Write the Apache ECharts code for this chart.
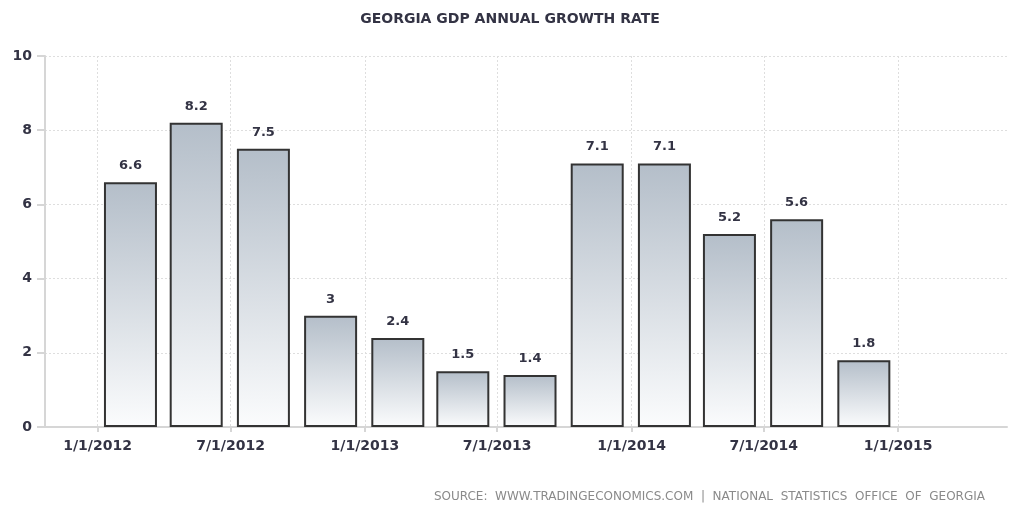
<!DOCTYPE html>
<html>
<head>
<meta charset="utf-8">
<script src="https://cdn.jsdelivr.net/npm/echarts@6/dist/echarts.min.js"></script>
<style>
  html, body { margin: 0; padding: 0; background: #fff; }
  #mychart { width: 1018px; height: 508px; }
</style>
</head>
<body>
<div id="mychart"></div>
<script>
// quarterly GDP growth, plotted at mid-quarter
var quarters = ['2012-02-15', '2012-05-15', '2012-08-15', '2012-11-15',
                '2013-02-15', '2013-05-15', '2013-08-15', '2013-11-15',
                '2014-02-15', '2014-05-15', '2014-08-15', '2014-11-15']
var growth = [6.6, 8.2, 7.5, 3, 2.4, 1.5, 1.4, 7.1, 7.1, 5.2, 5.6, 1.8]
var tickDates = ['2012-01-01', '2012-07-01', '2013-01-01', '2013-07-01',
                 '2014-01-01', '2014-07-01', '2015-01-01']

var textColor = '#333344'
var fontName = 'DejaVu Sans'

function ts(s) {
    return Date.parse(s + 'T00:00:00Z')
}

var seriesData = []
for (var i = 0; i < quarters.length; i++) {
    seriesData.push([ts(quarters[i]), growth[i]])
}
var tickValues = tickDates.map(ts)

var myChart = echarts.init(document.getElementById('mychart'))

var option = {
    animation: false,
    backgroundColor: '#fff',
    title: [{
        text: 'GEORGIA GDP ANNUAL GROWTH RATE',
        left: 505,
        top: 7,
        textAlign: 'center',
        textStyle: {
            color: textColor,
            fontFamily: fontName,
            fontWeight: 'bold',
            fontSize: 14,
        },
    }, {
        text: 'SOURCE:  WWW.TRADINGECONOMICS.COM  |  NATIONAL  STATISTICS  OFFICE  OF  GEORGIA',
        right: 28,
        top: 486,
        textStyle: {
            color: '#8a8a8a',
            fontFamily: fontName,
            fontWeight: 'normal',
            fontSize: 12,
        },
    }],
    grid: {
        left: 45,
        right: 11,
        top: 56,
        bottom: 81,
        containLabel: false,
    },
    xAxis: {
        type: 'value',
        min: ts('2011-10-21'),
        max: ts('2015-05-30'),
        axisLine: {
            show: true,
            lineStyle: { color: '#d6d6d6', width: 2 },
        },
        axisTick: {
            show: true,
            customValues: tickValues,
            length: 5,
            lineStyle: { color: '#d6d6d6', width: 2 },
        },
        axisLabel: {
            customValues: tickValues,
            color: textColor,
            fontFamily: fontName,
            fontWeight: 'bold',
            fontSize: 14,
            margin: 12,
            formatter: function (value) {
                var d = new Date(value)
                return (d.getUTCMonth() + 1) + '/' + d.getUTCDate() + '/' + d.getUTCFullYear()
            },
        },
        splitLine: {
            show: true,
            lineStyle: { color: '#dedede', type: [2, 2], width: 1 },
        },
    },
    yAxis: {
        type: 'value',
        min: 0,
        max: 10,
        interval: 2,
        axisLine: {
            show: true,
            lineStyle: { color: '#d6d6d6', width: 2 },
        },
        axisTick: {
            show: true,
            length: 8,
            lineStyle: { color: '#d6d6d6', width: 2 },
        },
        axisLabel: {
            color: textColor,
            fontFamily: fontName,
            fontWeight: 'bold',
            fontSize: 14,
            margin: 13,
        },
        splitLine: {
            show: true,
            lineStyle: { color: '#dedede', type: [2, 2], width: 1 },
        },
    },
    series: [{
        type: 'bar',
        data: seriesData,
        barWidth: 53,
        itemStyle: {
            color: new echarts.graphic.LinearGradient(0, 0, 0, 1, [
                { offset: 0, color: '#b4bec9' },
                { offset: 1, color: '#fbfcfd' },
            ]),
            borderColor: '#333333',
            borderWidth: 2,
        },
        label: {
            show: true,
            position: 'top',
            distance: 10,
            color: textColor,
            fontFamily: fontName,
            fontWeight: 'bold',
            fontSize: 13,
        },
    }],
}

myChart.setOption(option)
</script>
</body>
</html>
